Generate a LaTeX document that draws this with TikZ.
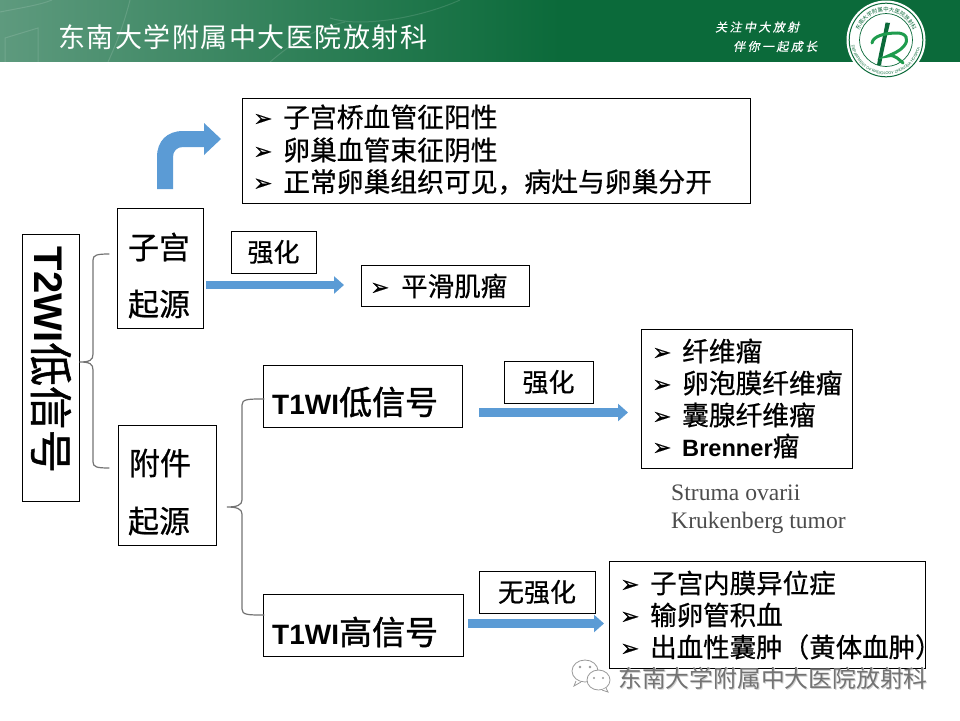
\documentclass[tikz,border=0pt]{standalone}
\usepackage{fontspec}
\usetikzlibrary{arrows.meta,decorations.text}
\setmainfont{Liberation Sans}
\newfontfamily\cjk{Noto Sans CJK SC}
\newfontfamily\cjkm[FakeBold=0.6]{Noto Sans CJK SC}
\newfontfamily\cjkb[FakeBold=1.2]{Noto Sans CJK SC}
\newfontfamily\cjkhead[LetterSpace=5.6]{Noto Sans CJK SC}
\newfontfamily\cjktag[LetterSpace=20,FakeSlant=0.2,FakeBold=0.4]{Noto Sans CJK SC}
\newfontfamily\bulfont[FakeBold=0.6]{DejaVu Sans}
\newfontfamily\lat{Liberation Sans}
\newfontfamily\serifgray{Liberation Serif}
\definecolor{hdrdark}{HTML}{0B6A3A}
\definecolor{hdrlight}{HTML}{5E9A7E}
\definecolor{hdrmid}{HTML}{2F8058}
\definecolor{blockblue}{HTML}{5B9BD5}
\definecolor{logogreen}{HTML}{1F9C4E}
\definecolor{logodark}{HTML}{0B6A3A}
\newcommand{\fs}[2]{\fontsize{#1}{#2}\selectfont}
\newcommand{\itm}[1]{\makebox[30pt][l]{{\bulfont\fontsize{23}{23}\selectfont\raisebox{1pt}{➢}}}#1}
\tikzset{
  box/.style={draw=black,line width=1pt,fill=white,inner sep=0pt,align=center},
  blockarrow/.style={line width=8.5pt,draw=blockblue,-{Triangle[length=10pt,width=17pt]}},
  bracket/.style={draw=black!55,line width=1.2pt,line cap=round},
  word/.style={inner sep=0pt,font=\cjk},
}
\begin{document}
\begin{tikzpicture}[x=1pt,y=-1pt]
\useasboundingbox (0,0) rectangle (960,720);
% header band
\begin{scope}
\clip (0,0) rectangle (960,61.5);
\shade[left color=hdrlight,right color=hdrmid] (0,-2) rectangle (300,64);
\shade[left color=hdrmid,right color=hdrdark] (300,-2) rectangle (560,64);
\fill[hdrdark] (560,-2) rectangle (960,64);
\begin{scope}[draw=white,draw opacity=.13,line width=1pt]
\draw (0,12) .. controls (20,8) and (40,5) .. (52,0);
\draw (5,62) -- (5,38) -- (38,28) -- (38,62);
\draw (108,62) .. controls (118,40) and (125,20) .. (130,0);
\draw (270,62) .. controls (290,45) and (310,30) .. (345,22);
\draw (330,18) .. controls (360,28) and (420,18) .. (460,0);
\end{scope}
\end{scope}
\node[word,text=white,anchor=west,font=\cjkhead\fs{27}{27}] (title) at (58,37) {东南大学附属中大医院放射科};
\node[word,text=white,anchor=west,font=\cjktag\fs{12}{12}] (tag1) at (715,27) {关注中大放射};
\node[word,text=white,anchor=west,font=\cjktag\fs{12}{12}] (tag2) at (733,46.5) {伴你一起成长};
% logo
\coordinate (logoc) at (886,40);
\fill[white] (logoc) circle (39.5);
\draw[logodark,line width=1pt] (logoc) circle (36.8);
\draw[logodark,line width=.7pt] (logoc) circle (26.5);
\begin{scope}[shift={(logoc)},x=1pt,y=1pt]
\path[decorate,decoration={text along path,text align=center,
  text={|\cjk\fs{5.4}{6}\color{logodark}|东南大学附属中大医院放射科}}]
  (165:28.5) arc[start angle=165,end angle=15,radius=28.5];
\path[decorate,decoration={text along path,text align=center,
  text={|\lat\fs{3.9}{4}\color{logodark}|DEPARTMENT OF RADIOLOGY ZHONGDA HOSPITAL}}]
  (192:34.8) arc[start angle=192,end angle=348,radius=34.8];
\end{scope}
\fill[logodark] (885.5,22.5) -- (890,23) .. controls (886.5,38) and (882.5,55) .. (881,65.5) -- (877,65) .. controls (879.5,50) and (883.5,35) .. (885.5,22.5) -- cycle;
\draw[logogreen,line width=3pt,line cap=round]
  (872,43) .. controls (873,36) and (885,33) .. (897,33)
  .. controls (907,33) and (909,40) .. (904,46)
  .. controls (899,52) and (892,54) .. (888,56)
  .. controls (895,54) and (899,60) .. (903,63);
% left root
\node[box,minimum width=57pt,minimum height=267pt] (root) at (50.5,367.5) {};
\node[word,rotate=-90,font=\lat\bfseries\fs{40}{40}] (rootlabel) at (51,360) {T2WI{\mdseries\cjkb\fs{43.5}{44}低信号}};
% source boxes
\node[box,minimum width=86pt,minimum height=120pt] (uterus) at (160,268) {};
\node[word,font=\cjkm\fs{31}{31}] (u1) at (159,247) {子宫};
\node[word,font=\cjkm\fs{31}{31}] (u2) at (159,304) {起源};
\node[box,minimum width=98pt,minimum height=120pt] (adnexa) at (167,485) {};
\node[word,font=\cjkm\fs{31}{31}] (a1) at (160,463) {附件};
\node[word,font=\cjkm\fs{31}{31}] (a2) at (159,521) {起源};
% top list
\node[box,minimum width=508pt,minimum height=105pt] (toplist) at (496,150.5) {};
\node[word,anchor=west,font=\cjkm\fs{26.8}{27}] (t1) at (253,117) {\itm{子宫桥血管征阳性}};
\node[word,anchor=west,font=\cjkm\fs{26.8}{27}] (t2) at (253,150) {\itm{卵巢血管束征阴性}};
\node[word,anchor=west,font=\cjkm\fs{26.8}{27}] (t3) at (253,182) {\itm{正常卵巢组织可见，病灶与卵巢分开}};
% enhance 1
\node[box,minimum width=85pt,minimum height=42pt,font=\cjkm\fs{26}{26}] (enh1) at (273.5,252) {强化};
\node[box,minimum width=168pt,minimum height=41pt] (leio) at (445,285.5) {};
\node[word,anchor=west,font=\cjkm\fs{26.5}{27}] (leiot) at (370,286) {\itm{\hspace{1pt}平滑肌瘤}};
% T1 boxes
\node[box,minimum width=199pt,minimum height=62pt] (tlow) at (362.5,396) {};
\node[word,anchor=west,font=\lat\bfseries\fs{28}{28}] (tlowt) at (272,402) {T1WI{\mdseries\cjkb\fs{33}{33}低信号}};
\node[box,minimum width=200pt,minimum height=62pt] (thigh) at (363,625) {};
\node[word,anchor=west,font=\lat\bfseries\fs{28}{28}] (thight) at (272,632) {T1WI{\mdseries\cjkb\fs{33}{33}高信号}};
\node[box,minimum width=89pt,minimum height=42pt,font=\cjkm\fs{26}{26}] (enh2) at (548.5,382) {强化};
\node[box,minimum width=116pt,minimum height=42pt,font=\cjkm\fs{26}{26}] (noenh) at (537,592) {无强化};
% right lists
\node[box,minimum width=211pt,minimum height=139pt] (fib) at (746.5,398.5) {};
\node[word,anchor=west,font=\cjkm\fs{26.7}{27}] (f1) at (652,351) {\itm{纤维瘤}};
\node[word,anchor=west,font=\cjkm\fs{26.7}{27}] (f2) at (652,383) {\itm{卵泡膜纤维瘤}};
\node[word,anchor=west,font=\cjkm\fs{26.7}{27}] (f3) at (652,415) {\itm{囊腺纤维瘤}};
\node[word,anchor=west,font=\cjkm\fs{26.7}{27}] (f4) at (652,446) {\itm{{\lat\bfseries\fs{23.6}{24}Brenner}瘤}};
\node[word,anchor=west,text=black!70,font=\serifgray\fs{23.6}{24}] (st1) at (671,493) {Struma ovarii};
\node[word,anchor=west,text=black!70,font=\serifgray\fs{23.6}{24}] (st2) at (671,523) {Krukenberg tumor};
\node[box,minimum width=316pt,minimum height=107pt] (endo) at (767,614.5) {};
\node[word,anchor=west,font=\cjkm\fs{26.5}{27}] (e1) at (620,583) {\itm{子宫内膜异位症}};
\node[word,anchor=west,font=\cjkm\fs{26.5}{27}] (e2) at (620,615) {\itm{输卵管积血}};
\node[word,anchor=west,font=\cjkm\fs{26.5}{27}] (e3) at (620,647) {\itm{出血性囊肿（黄体血肿）}};
% block arrows
\coordinate (a1s) at (206,285);
\coordinate (a1e) at (344,285);
\draw[blockarrow] (a1s) -- (a1e);
\coordinate (a2s) at (479,412.5);
\coordinate (a2e) at (628,412.5);
\draw[blockarrow] (a2s) -- (a2e);
\coordinate (a3s) at (468,623.5);
\coordinate (a3e) at (604,623.5);
\draw[blockarrow] (a3s) -- (a3e);
% bent arrow
\fill[blockblue] (157,189) -- (157,157) .. controls (157,141) and (167,131) .. (183,131)
  -- (204,131) -- (204,123) -- (221,139) -- (204,155) -- (204,147) -- (183,147)
  .. controls (177,147) and (173,151) .. (173,157) -- (173,189) -- cycle;
% brackets
\coordinate (b1tip) at (root.east |- 0,362);
\coordinate (b1top) at (109,254);
\coordinate (b1bot) at (109,468);
\draw[bracket] (b1top) .. controls (97,254) and (93,255) .. (93,260) -- (93,354)
  .. controls (93,360) and (90,362) .. (b1tip) .. controls (90,362) and (93,364) .. (93,370)
  -- (93,462) .. controls (93,467) and (97,468) .. (b1bot);
\coordinate (b2tip) at (227,507);
\coordinate (b2top) at (264,399);
\coordinate (b2bot) at (264,615);
\draw[bracket] (b2top) .. controls (248,399) and (242,399) .. (242,405) -- (242,500)
  .. controls (242,505) and (237,507) .. (b2tip) .. controls (237,507) and (242,509) .. (242,514)
  -- (242,609) .. controls (242,615) and (248,615) .. (b2bot);
% watermark
\begin{scope}[draw=black!40,fill=white,line width=.8pt]
\filldraw (585,671) ellipse (13 and 11);
\filldraw (576,681) -- (574,686) -- (581,682);
\filldraw (598.5,680) ellipse (11.5 and 10);
\filldraw (606,688) -- (608,692) -- (602,690);
\fill[black!40] (580,667) circle (1.3) (590,667) circle (1.3) (594,678) circle (1.2) (603,678) circle (1.2);
\end{scope}
\node[word,anchor=west,text=black!18,font=\cjk\fs{23.8}{24}] (wm0) at (619,679) {东南大学附属中大医院放射科};
\node[word,anchor=west,text=black!55,font=\cjk\fs{23.8}{24}] (wm) at (618,678) {东南大学附属中大医院放射科};
\end{tikzpicture}
\end{document}
